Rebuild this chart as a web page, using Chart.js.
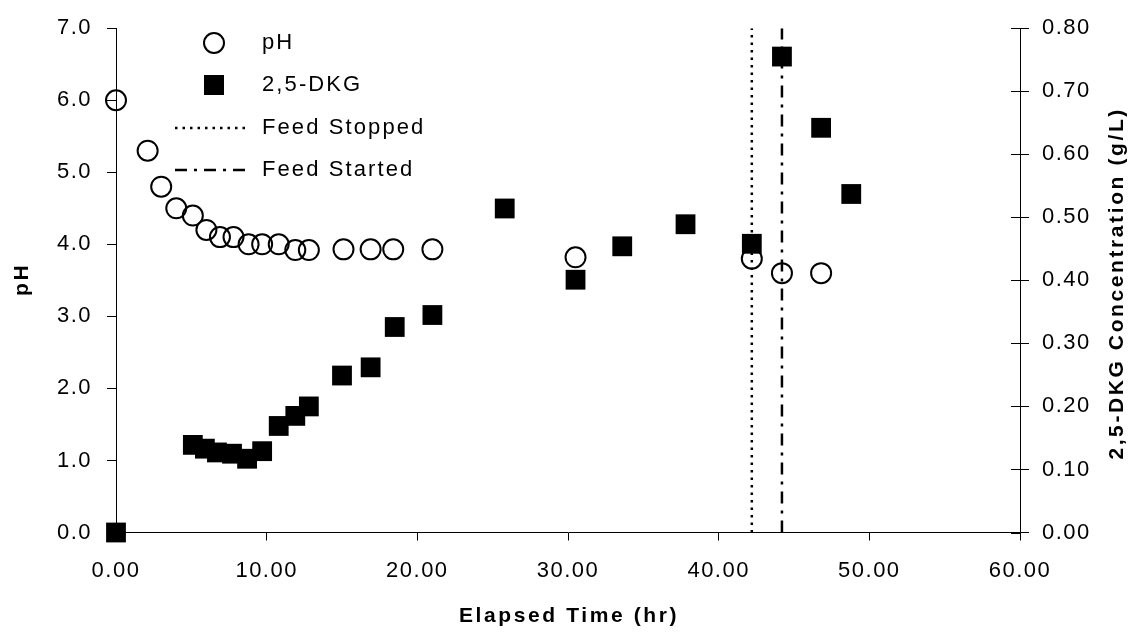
<!DOCTYPE html>
<html>
<head>
<meta charset="utf-8">
<script src="https://cdn.jsdelivr.net/npm/chart.js@4.4.1/dist/chart.umd.min.js"></script>
<style>
  html, body { margin: 0; padding: 0; background: #fff; }
  canvas { display: block; }
</style>
</head>
<body>
<canvas id="chart" width="1131" height="636"></canvas>
<script>
// ---- data ----
const timePH = [0, 2.1, 3.0, 4.0, 5.1, 6.0, 6.9, 7.8, 8.8, 9.7, 10.8, 11.9, 12.8, 15.1, 16.9, 18.4, 21.0, 30.5, 42.2, 44.2, 46.8];
const pH     = [6.0, 5.3, 4.8, 4.5, 4.4, 4.2, 4.1, 4.1, 4.0, 4.0, 4.0, 3.92, 3.92, 3.93, 3.93, 3.93, 3.93, 3.82, 3.8, 3.6, 3.6];

const timeDKG = [0, 5.1, 5.9, 6.7, 7.7, 8.7, 9.7, 10.8, 11.9, 12.8, 15.0, 16.9, 18.5, 21.0, 25.8, 30.5, 33.6, 37.8, 42.2, 44.2, 46.8, 48.8];
const dkg     = [0, 0.139, 0.133, 0.127, 0.125, 0.117, 0.129, 0.169, 0.185, 0.200, 0.249, 0.262, 0.326, 0.345, 0.514, 0.401, 0.454, 0.489, 0.458, 0.755, 0.642, 0.537];

const feedStoppedAt = 42.2;
const feedStartedAt = 44.2;

const xTickLabels   = ["0.00", "10.00", "20.00", "30.00", "40.00", "50.00", "60.00"];
const phTickLabels  = ["0.0", "1.0", "2.0", "3.0", "4.0", "5.0", "6.0", "7.0"];
const dkgTickLabels = ["0.00", "0.10", "0.20", "0.30", "0.40", "0.50", "0.60", "0.70", "0.80"];

const seriesNames = ["pH", "2,5-DKG", "Feed Stopped", "Feed Started"];
const axisTitles  = { x: "Elapsed Time (hr)", y: "pH", y2: "2,5-DKG Concentration (g/L)" };

// ---- styling ----
const FONT = '"Liberation Sans", Arial, Helvetica, sans-serif';
const DOTTED = [2.5, 5];
const DASHDOT = [12, 7, 3, 7];

const pts = (xs, ys) => xs.map((x, i) => ({ x, y: ys[i] }));

/* letter-spaced text, axis titles, inner half of right ticks, legend */
const decor = {
  id: "decor",
  beforeDraw(chart) { chart.ctx.letterSpacing = "1.5px"; },
  afterDraw(chart) {
    const ctx = chart.ctx, a = chart.chartArea, y2 = chart.scales.y2;
    ctx.save();
    ctx.strokeStyle = "#000"; ctx.fillStyle = "#000"; ctx.lineWidth = 1;

    // right axis ticks cross the axis
    y2.ticks.forEach(t => {
      const py = Math.round(y2.getPixelForValue(t.value)) + 0.5;
      ctx.beginPath(); ctx.moveTo(a.right - 9, py); ctx.lineTo(a.right, py); ctx.stroke();
    });

    // axis titles
    const midY = (a.top + a.bottom) / 2;
    ctx.font = "bold 21px " + FONT;
    ctx.letterSpacing = "2.6px";
    ctx.textAlign = "center"; ctx.textBaseline = "middle";
    ctx.fillText(axisTitles.x, (a.left + a.right) / 2 + 1, 616);
    ctx.save(); ctx.translate(22, midY); ctx.rotate(-Math.PI / 2); ctx.fillText(axisTitles.y, 1, 0); ctx.restore();
    ctx.save(); ctx.translate(1117, midY + 4); ctx.rotate(-Math.PI / 2); ctx.fillText(axisTitles.y2, 1, 0); ctx.restore();

    // legend
    ctx.font = "22px " + FONT;
    ctx.letterSpacing = "2.1px";
    ctx.textAlign = "left";
    const tx = 262;
    ctx.lineWidth = 2;
    ctx.beginPath(); ctx.arc(214, 43, 10, 0, Math.PI * 2); ctx.stroke();
    ctx.fillText(seriesNames[0], tx, 43);
    ctx.fillRect(204, 75, 20, 20);
    ctx.fillText(seriesNames[1], tx, 85);
    ctx.lineWidth = 2.5;
    ctx.setLineDash(DOTTED);
    ctx.beginPath(); ctx.moveTo(175, 128); ctx.lineTo(248, 128); ctx.stroke();
    ctx.setLineDash(DASHDOT);
    ctx.beginPath(); ctx.moveTo(175, 170); ctx.lineTo(250, 170); ctx.stroke();
    ctx.setLineDash([]);
    ctx.fillText(seriesNames[2], tx, 128);
    ctx.fillText(seriesNames[3], tx, 170);
    ctx.restore();
  }
};

const axisCommon = {
  grid: { display: true, drawOnChartArea: false, drawTicks: true, tickLength: 9, color: "#000", lineWidth: 1 },
  border: { display: true, color: "#000", width: 1 },
};
const tickFont = { family: FONT, size: 22 };

new Chart(document.getElementById("chart"), {
  type: "scatter",
  data: {
    datasets: [
      {
        label: seriesNames[1], data: pts(timeDKG, dkg), yAxisID: "y2",
        pointStyle: "rect", pointRadius: 14, backgroundColor: "#000", borderColor: "#000", borderWidth: 0, clip: false,
      },
      {
        label: seriesNames[0], data: pts(timePH, pH), yAxisID: "y",
        pointStyle: "circle", pointRadius: 10, backgroundColor: "rgba(0,0,0,0)", borderColor: "#000", borderWidth: 2, clip: false,
      },
      {
        label: seriesNames[2], data: pts([feedStoppedAt, feedStoppedAt], [0, 7]), yAxisID: "y",
        showLine: true, borderColor: "#000", borderWidth: 2.5, borderDash: DOTTED, pointRadius: 0,
      },
      {
        label: seriesNames[3], data: pts([feedStartedAt, feedStartedAt], [0, 7]), yAxisID: "y",
        showLine: true, borderColor: "#000", borderWidth: 2.5, borderDash: DASHDOT, pointRadius: 0,
      },
    ],
  },
  options: {
    responsive: false,
    animation: false,
    events: [],
    layout: { padding: { top: 23.5, left: 0, right: 0, bottom: 0 } },
    plugins: { legend: { display: false }, tooltip: { enabled: false } },
    scales: {
      x: {
        ...axisCommon, type: "linear", min: 0, max: 60,
        grid: { ...axisCommon.grid, tickLength: 8 },
        ticks: { stepSize: 10, color: "#000", font: tickFont, padding: 17, maxRotation: 0, autoSkip: false,
                 callback: (v, i) => xTickLabels[i] },
        afterFit: s => { s.height = 103.5; },
      },
      y: {
        ...axisCommon, type: "linear", position: "left", min: 0, max: 7,
        ticks: { stepSize: 1, color: "#000", font: tickFont, padding: 15, callback: (v, i) => phTickLabels[i] },
        afterFit: s => { s.width = 116; },
      },
      y2: {
        ...axisCommon, type: "linear", position: "right", min: 0, max: 0.8,
        ticks: { stepSize: 0.1, color: "#000", font: tickFont, padding: 13, callback: (v, i) => dkgTickLabels[i] },
        afterFit: s => { s.width = 111; },
      },
    },
  },
  plugins: [decor],
});
</script>
</body>
</html>
